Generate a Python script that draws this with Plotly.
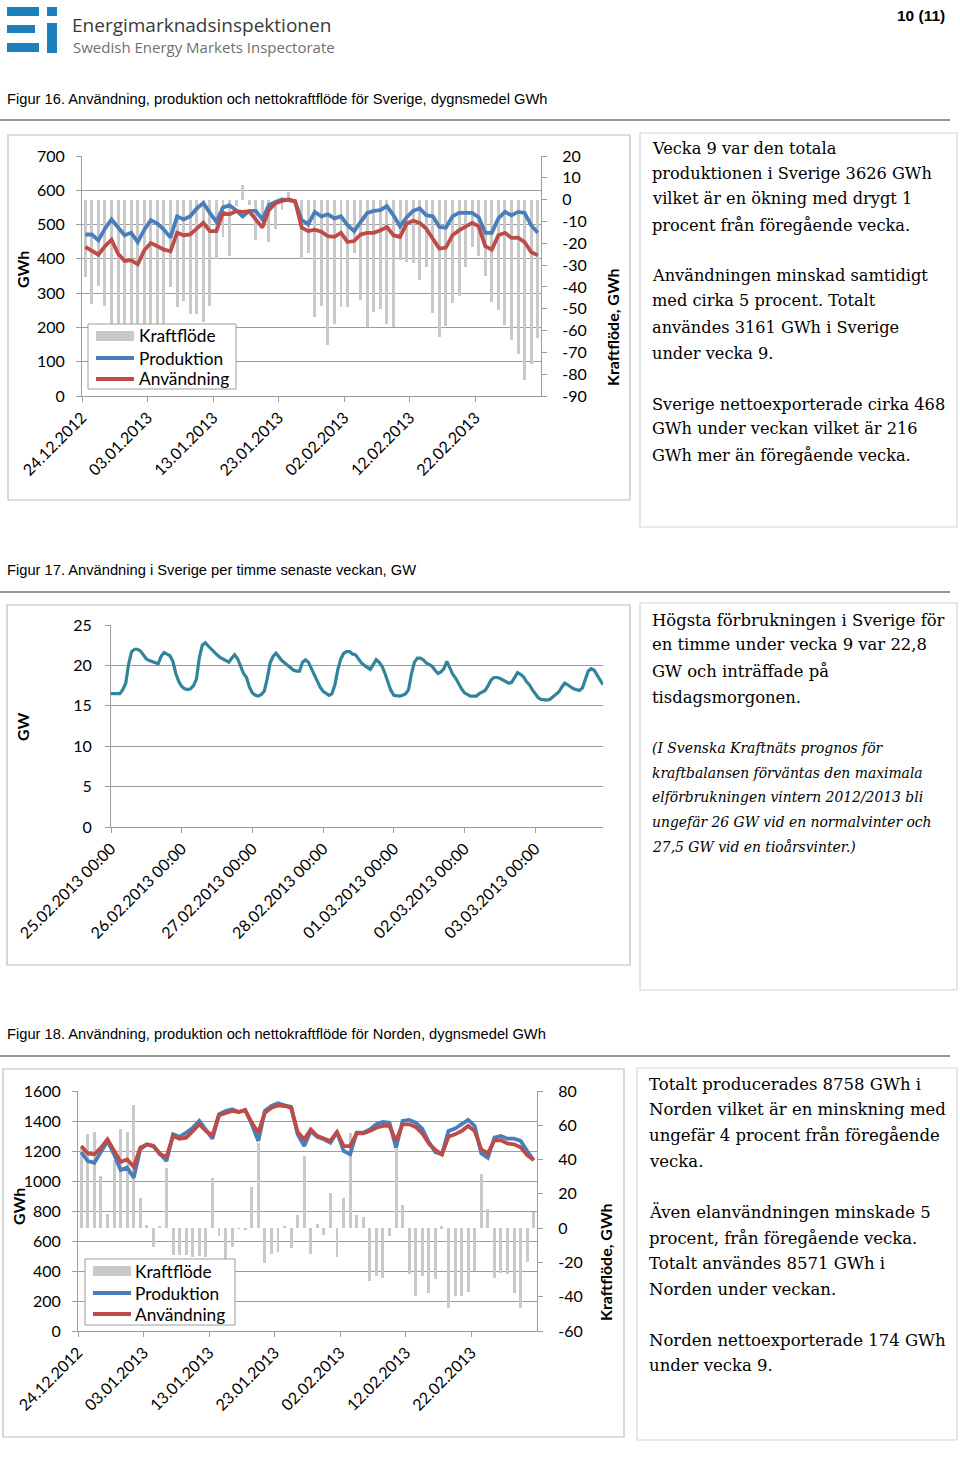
import pandas as pd
import plotly.graph_objects as go

W, H = 960, 1466


def px(x):
    return x / W


def py(y):
    return 1 - y / H


# ---------------- data ----------------
days = pd.date_range("2012-12-24 12:00", periods=70, freq="D")
hours = pd.date_range("2013-02-25 00:00", periods=168, freq="h")

date_ticks = ["2012-12-24", "2013-01-03", "2013-01-13", "2013-01-23",
              "2013-02-02", "2013-02-12", "2013-02-22"]
date_labels = ["24.12.2012", "03.01.2013", "13.01.2013", "23.01.2013",
               "02.02.2013", "12.02.2013", "22.02.2013"]
series_names = ["Kraftflöde", "Produktion", "Användning"]

# right-axis tick values (labels written with a plain hyphen as in the original)
se_flow_ticks = [20, 10, 0, -10, -20, -30, -40, -50, -60, -70, -80, -90]
no_flow_ticks = [80, 60, 40, 20, 0, -20, -40, -60]

# Figur 16 - Sverige, dygnsmedel GWh
se_prod = [471, 471, 454, 488, 515, 491, 469, 476, 449, 485,
           513, 503, 485, 462, 524, 515, 524, 547, 563, 534,
           508, 550, 556, 542, 524, 540, 540, 515, 557, 566,
           573, 571, 568, 513, 501, 537, 524, 530, 518, 524,
           498, 481, 508, 534, 540, 542, 554, 527, 495, 521,
           540, 547, 527, 524, 493, 491, 524, 534, 534, 534,
           521, 476, 476, 518, 537, 527, 537, 534, 498, 476]
se_use = [435, 423, 412, 437, 456, 415, 394, 396, 384, 425,
          446, 437, 427, 422, 476, 469, 471, 488, 505, 481,
          481, 534, 530, 539, 537, 539, 515, 491, 542, 562,
          569, 573, 568, 491, 481, 485, 479, 466, 464, 476,
          449, 452, 471, 476, 476, 483, 493, 469, 464, 503,
          511, 505, 488, 459, 430, 433, 469, 483, 495, 505,
          495, 437, 427, 469, 476, 461, 462, 449, 420, 410]
se_flow = [-35.6, -47.9, -39.4, -48.6, -59, -76, -75, -80, -65, -60,
           -67, -66, -58, -40, -49.4, -46.3, -52.4, -52.4, -56.2, -48.9,
           -27, -17.2, -26, -3, 6.6, -2.6, -18.5, -10, -19.5, -13.3,
           -4.8, 3.6, -1.5, -27, -24.3, -54, -48.6, -66.6, -56.8, -49.1,
           -49.4, -24.6, -46, -58.3, -51.4, -49.9, -57.1, -58.3, -27.7, -28.5,
           -28.9, -36.9, -31.1, -51.9, -62.9, -58, -47.6, -44.2, -31.1, -21.6,
           -25.9, -35, -46.8, -50.6, -57.5, -64.4, -70.8, -82.7, -75.4, -63.2]

# Figur 17 - Användning i Sverige per timme, GW
se_hourly = [16.5, 16.5, 16.5, 16.5, 17.0, 17.8, 20.2, 21.7, 22.0, 22.0, 21.8, 21.3,
             20.8, 20.6, 20.5, 20.3, 20.2, 21.1, 21.6, 21.4, 21.2, 20.5, 19.0, 18.0,
             17.4, 17.1, 17.0, 17.1, 17.5, 18.3, 21.0, 22.5, 22.8, 22.4, 22.0, 21.6,
             21.3, 21.0, 20.8, 20.6, 20.4, 20.9, 21.3, 20.8, 19.8, 19.0, 18.5, 17.3,
             16.6, 16.3, 16.2, 16.4, 16.8, 18.3, 20.3, 21.1, 21.5, 21.0, 20.6, 20.3,
             20.0, 19.8, 19.4, 19.3, 19.3, 20.4, 20.7, 20.4, 19.6, 18.8, 18.2, 17.3,
             16.8, 16.5, 16.3, 16.5, 17.6, 19.5, 20.8, 21.5, 21.7, 21.7, 21.4, 21.3,
             20.8, 20.3, 20.0, 19.7, 19.5, 20.1, 20.7, 20.4, 19.9, 19.0, 17.8, 16.9,
             16.3, 16.2, 16.2, 16.3, 16.5, 17.0, 19.0, 20.4, 20.9, 20.9, 20.7, 20.3,
             20.1, 19.9, 19.4, 19.0, 19.2, 19.6, 20.5, 19.6, 18.9, 18.4, 17.7, 17.1,
             16.6, 16.4, 16.2, 16.2, 16.2, 16.5, 16.7, 16.9, 17.5, 18.2, 18.5, 18.5,
             18.4, 18.2, 18.0, 17.8, 17.9, 18.5, 19.1, 18.9, 18.6, 18.0, 17.6, 17.0,
             16.5, 16.0, 15.8, 15.7, 15.7, 15.8, 16.1, 16.4, 16.7, 17.3, 17.8, 17.6,
             17.3, 17.1, 17.0, 16.9, 17.2, 18.4, 19.3, 19.6, 19.4, 18.8, 18.2, 17.6]
hour_ticks = ["2013-02-25", "2013-02-26", "2013-02-27", "2013-02-28",
              "2013-03-01", "2013-03-02", "2013-03-03"]
hour_labels = ["25.02.2013 00:00", "26.02.2013 00:00", "27.02.2013 00:00",
               "28.02.2013 00:00", "01.03.2013 00:00", "02.03.2013 00:00",
               "03.03.2013 00:00"]

# Figur 18 - Norden, dygnsmedel GWh
no_prod = [1193, 1133, 1122, 1200, 1267, 1178, 1073, 1089, 1022, 1211,
           1244, 1233, 1178, 1133, 1311, 1295, 1322, 1355, 1400, 1340,
           1282, 1444, 1467, 1478, 1460, 1473, 1378, 1267, 1467, 1500,
           1518, 1504, 1495, 1311, 1233, 1333, 1295, 1278, 1255, 1327,
           1200, 1178, 1322, 1322, 1344, 1378, 1393, 1389, 1222, 1400,
           1407, 1389, 1349, 1260, 1193, 1178, 1333, 1349, 1378, 1407,
           1367, 1184, 1155, 1289, 1300, 1282, 1282, 1267, 1200, 1138]
no_use = [1233, 1184, 1178, 1222, 1278, 1200, 1127, 1144, 1095, 1222,
          1244, 1233, 1178, 1162, 1300, 1282, 1289, 1333, 1378, 1333,
          1304, 1438, 1455, 1467, 1460, 1473, 1389, 1322, 1455, 1489,
          1504, 1500, 1489, 1327, 1278, 1344, 1300, 1282, 1267, 1327,
          1233, 1233, 1318, 1318, 1333, 1355, 1367, 1367, 1267, 1378,
          1378, 1360, 1318, 1249, 1207, 1178, 1295, 1311, 1333, 1367,
          1333, 1211, 1184, 1270, 1272, 1250, 1245, 1225, 1172, 1140]
no_flow = [46.5, 54.8, 56.2, 30.3, 8.2, 40, 58, 56, 72, 17.3,
           2, -10.9, 1.2, 34.8, -15.7, -15.7, -15.7, -16.7, -16.3, -16.7,
           29, -4.5, -18.7, -10.9, -0.4, -0.8, 24.1, 49.4, -20.2, -15.2,
           -13.8, 1.2, -11.3, 7.6, 42.2, -14.8, 2.7, -4, 20.7, -17,
           17.8, 55.6, 7.5, 6.6, -30.8, -28, -29, -4.6, 46, 13.3,
           -26.5, -39.6, -28, -37.6, -29.9, 1, -46.4, -39.6, -39.6, -37.2,
           -25, 31.4, 11, -28.9, -26, -27, -37.6, -46.4, -19.6, 9.4]

# ---------------- styles ----------------
GRID = "#9d9d9d"
BARC = "#c9c9c9"
BLUE = "#4a7ebb"
RED = "#be4b48"
TEAL = "#31849b"
SANS = "Lato, Calibri, sans-serif"
SERIF = "DejaVu Serif, serif"
TICKF = dict(family=SANS, size=16, color="#000")
DAY_MS = 86400000

fig = go.Figure()

# chart 1
fig.add_trace(go.Bar(x=days, y=se_flow, name=series_names[0], marker=dict(color=BARC, line=dict(width=0)),
                     width=0.45 * DAY_MS, xaxis="x", yaxis="y", showlegend=False))
fig.add_trace(go.Scatter(x=days, y=se_prod, name=series_names[1], mode="lines", showlegend=False,
                         line=dict(color=BLUE, width=3.8), xaxis="x", yaxis="y2"))
fig.add_trace(go.Scatter(x=days, y=se_use, name=series_names[2], mode="lines", showlegend=False,
                         line=dict(color=RED, width=3.8), xaxis="x", yaxis="y2"))
# chart 2
fig.add_trace(go.Scatter(x=hours, y=se_hourly, name="Användning", mode="lines", showlegend=False,
                         line=dict(color=TEAL, width=3.2), xaxis="x2", yaxis="y3"))
# chart 3
fig.add_trace(go.Bar(x=days, y=no_flow, name=series_names[0], marker=dict(color=BARC, line=dict(width=0)),
                     width=0.45 * DAY_MS, xaxis="x3", yaxis="y4", showlegend=False))
fig.add_trace(go.Scatter(x=days, y=no_prod, name=series_names[1], mode="lines", showlegend=False,
                         line=dict(color=BLUE, width=3.8), xaxis="x3", yaxis="y5"))
fig.add_trace(go.Scatter(x=days, y=no_use, name=series_names[2], mode="lines", showlegend=False,
                         line=dict(color=RED, width=3.8), xaxis="x3", yaxis="y5"))


def xdate(domain, anchor, rng, tickvals, ticktext):
    return dict(domain=domain, anchor=anchor, type="date", range=rng,
                tickmode="array", tickvals=tickvals, ticktext=ticktext,
                tickangle=-45, ticks="outside", ticklen=5, tickcolor=GRID,
                showline=True, linecolor=GRID, linewidth=1, showgrid=False,
                zeroline=False, tickfont=TICKF, fixedrange=True, automargin=False)


def yax(**kw):
    d = dict(ticks="outside", ticklen=5, tickcolor=GRID, showline=True, linecolor=GRID,
             linewidth=1, zeroline=False, tickfont=TICKF, fixedrange=True, showgrid=False,
             automargin=False)
    d.update(kw)
    return d


fig.update_layout(
    template="none",
    width=W, height=H, autosize=False,
    margin=dict(l=0, r=0, t=0, b=0, pad=0, autoexpand=False),
    paper_bgcolor="white", plot_bgcolor="rgba(0,0,0,0)",
    font=dict(family=SANS, color="#000"),
    bargap=0, showlegend=False,
    xaxis=xdate([px(82), px(541)], "y", ["2012-12-24", "2013-03-04"], date_ticks, date_labels),
    yaxis=yax(domain=[py(396), py(156)], anchor="x", side="right", range=[-90, 20],
              tickmode="array", tickvals=se_flow_ticks, ticktext=[str(v) for v in se_flow_ticks],
              ticklabelstandoff=12),
    yaxis2=yax(overlaying="y", anchor="x", side="left", range=[0, 700], dtick=100,
               showgrid=True, gridcolor=GRID, gridwidth=1, ticklabelstandoff=8),
    xaxis2=xdate([px(111), px(603)], "y3", ["2013-02-25 00:00", "2013-03-03 23:00"], hour_ticks, hour_labels),
    yaxis3=yax(domain=[py(827), py(625)], anchor="x2", side="left", range=[0, 25], dtick=5,
               showgrid=True, gridcolor=GRID, gridwidth=1, ticklabelstandoff=10),
    xaxis3=xdate([px(78), px(537)], "y4", ["2012-12-24", "2013-03-04"], date_ticks, date_labels),
    yaxis4=yax(domain=[py(1331), py(1091)], anchor="x3", side="right", range=[-60, 80],
               tickmode="array", tickvals=no_flow_ticks, ticktext=[str(v) for v in no_flow_ticks],
               ticklabelstandoff=12),
    yaxis5=yax(overlaying="y4", anchor="x3", side="left", range=[0, 1600], dtick=200,
               showgrid=True, gridcolor=GRID, gridwidth=1, ticklabelstandoff=8),
)

shapes = []
ann = []


def text(x, y, s, size, family=SERIF, color="#000", xanchor="left", angle=0, yanchor="middle"):
    ann.append(dict(xref="paper", yref="paper", x=px(x), y=py(y), text=s, showarrow=False,
                    xanchor=xanchor, yanchor=yanchor, textangle=angle, borderpad=0,
                    font=dict(family=family, size=size, color=color)))


def rect(x0, y0, x1, y1, fill="rgba(0,0,0,0)", line_color=None, lw=1.2, layer="above"):
    shapes.append(dict(type="rect", xref="paper", yref="paper", x0=px(x0), x1=px(x1),
                       y0=py(y0), y1=py(y1), fillcolor=fill, layer=layer,
                       line=dict(color=line_color or "rgba(0,0,0,0)", width=lw if line_color else 0)))


def hline(x0, x1, y, color, width):
    shapes.append(dict(type="line", xref="paper", yref="paper", x0=px(x0), x1=px(x1),
                       y0=py(y), y1=py(y), line=dict(color=color, width=width)))


# logo
LOGO = "#1b80b9"
for (x0, y0, x1, y1) in [(7, 7, 39, 16), (47, 7, 57, 16), (7, 25, 35, 33),
                         (7, 43, 39, 52), (47, 23, 57, 53)]:
    rect(x0, y0, x1, y1, fill=LOGO)
# heading rules
for yy in (120, 592, 1056):
    hline(0, 950, yy, "#333", 1.2)
# chart and text boxes
for (x0, y0, x1, y1, c) in [(8, 135, 630, 500, "#bdbdbd"), (640, 133, 957, 527, "#d6d6d6"),
                            (7, 605, 630, 965, "#bdbdbd"), (640, 603, 957, 990, "#d6d6d6"),
                            (3, 1069, 624, 1437, "#bdbdbd"), (637, 1068, 957, 1440, "#d6d6d6")]:
    rect(x0, y0, x1, y1, line_color=c, layer="below")


# legends (drawn like the original Excel legend boxes)
def legend(box, sw_x0, sw_x1, text_x, rows):
    rect(*box, fill="white", line_color=GRID, lw=1)
    (yk, yp, ya) = rows
    rect(sw_x0, yk - 5, sw_x1, yk + 5, fill=BARC)
    hline(sw_x0, sw_x1, yp, BLUE, 4)
    hline(sw_x0, sw_x1, ya, RED, 4)
    for yy, name in zip(rows, series_names):
        text(text_x, yy, name, 17.3, family=SANS)


legend((88, 324, 236, 389), 96, 134, 138, (336, 358, 379))
legend((85, 1259, 235, 1325), 93, 131, 134, (1271, 1293, 1314))

text(71, 25, "Energimarknadsinspektionen", 19, family="Open Sans, sans-serif", color="#3a3a3a")
text(72, 47, "Swedish Energy Markets Inspectorate", 15, family="Open Sans, sans-serif", color="#707070")
text(946, 16, "<b>10 (11)</b>", 15.5, family="Liberation Sans, Arial, sans-serif", xanchor="right")

HEAD = "Liberation Sans, Arial, sans-serif"
text(6, 99, "Figur 16. Användning, produktion och nettokraftflöde för Sverige, dygnsmedel GWh", 14.7, family=HEAD)
text(6, 570, "Figur 17. Användning i Sverige per timme senaste veckan, GW", 14.7, family=HEAD)
text(6, 1034, "Figur 18. Användning, produktion och nettokraftflöde för Norden, dygnsmedel GWh", 14.7, family=HEAD)

# axis titles
text(22, 270, "<b>GWh</b>", 16, family=SANS, xanchor="center", angle=-90)
text(612, 327, "<b>Kraftflöde, GWh</b>", 16, family=SANS, xanchor="center", angle=-90)
text(22, 727, "<b>GW</b>", 16, family=SANS, xanchor="center", angle=-90)
text(18, 1207, "<b>GWh</b>", 16, family=SANS, xanchor="center", angle=-90)
text(605, 1262, "<b>Kraftflöde, GWh</b>", 16, family=SANS, xanchor="center", angle=-90)

# text boxes
t1 = [(148, "Vecka 9 var den totala"), (174, "produktionen i Sverige 3626 GWh"),
      (199, "vilket är en ökning med drygt 1"), (225, "procent från föregående vecka."),
      (276, "Användningen minskad samtidigt"), (301, "med cirka 5 procent. Totalt"),
      (327, "användes 3161 GWh i Sverige"), (353, "under vecka 9."),
      (404, "Sverige nettoexporterade cirka 468"), (429, "GWh under veckan vilket är 216"),
      (455, "GWh mer än föregående vecka.")]
for yy, s in t1:
    text(651, yy, s, 16.2)

t2 = [(620, "Högsta förbrukningen i Sverige för"), (645, "en timme under vecka 9 var 22,8"),
      (671, "GW och inträffade på"), (697, "tisdagsmorgonen.")]
for yy, s in t2:
    text(651, yy, s, 16.4)
t2i = [(748, "(I Svenska Kraftnäts prognos för"), (773, "kraftbalansen förväntas den maximala"),
       (797, "elförbrukningen vintern 2012/2013 bli"), (822, "ungefär 26 GW vid en normalvinter och"),
       (847, "27,5 GW vid en tioårsvinter.)")]
for yy, s in t2i:
    text(651, yy, "<i>" + s + "</i>", 13.9)

t3 = [(1084, "Totalt producerades 8758 GWh i"), (1109, "Norden vilket är en minskning med"),
      (1135, "ungefär 4 procent från föregående"), (1161, "vecka."),
      (1212, "Även elanvändningen minskade 5"), (1238, "procent, från föregående vecka."),
      (1263, "Totalt användes 8571 GWh i"), (1289, "Norden under veckan."),
      (1340, "Norden nettoexporterade 174 GWh"), (1365, "under vecka 9.")]
for yy, s in t3:
    text(648, yy, s, 16.5)

fig.update_layout(shapes=shapes, annotations=ann)

fig.write_html("out.html", config={"displayModeBar": False},
               post_script="document.body.style.margin='0';document.body.style.overflow='hidden';")
